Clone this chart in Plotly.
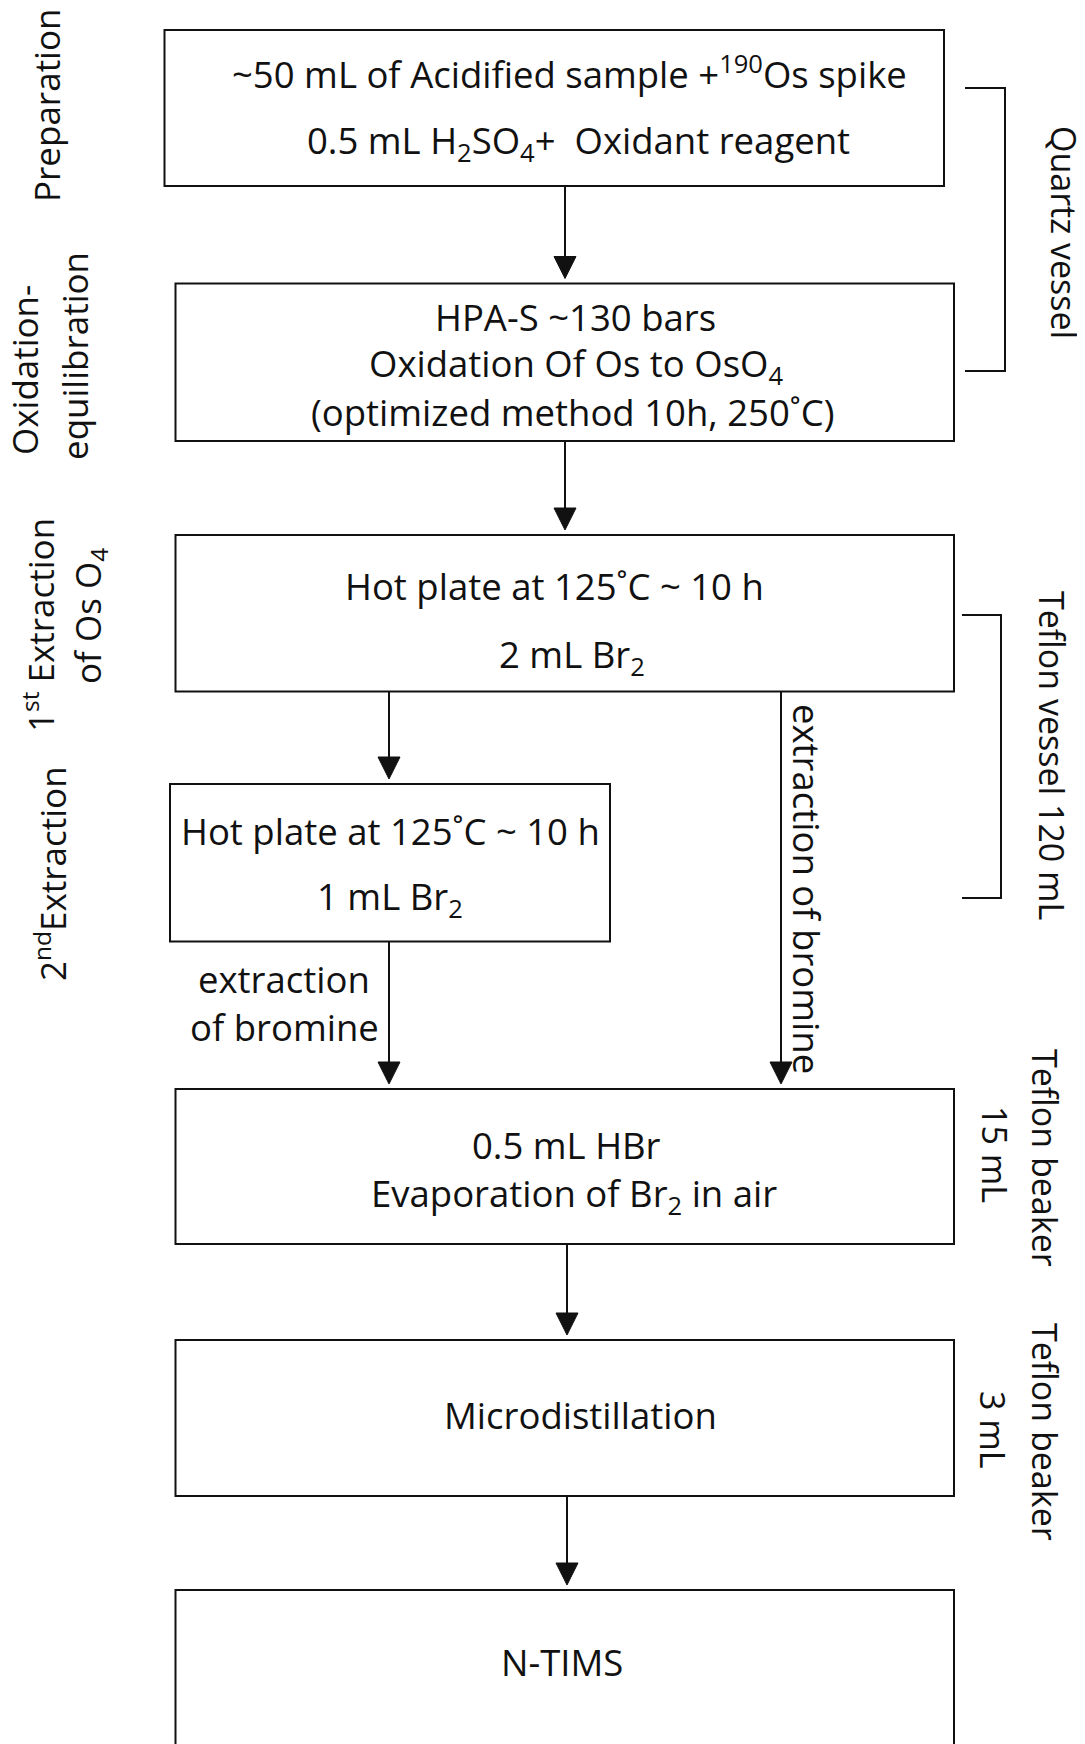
import plotly.graph_objects as go

# ---------------- content (data) ----------------
step_texts = [
    ["~50 mL of Acidified sample +<sup>190</sup>Os spike",
     "0.5 mL H<sub>2</sub>SO<sub>4</sub>+  Oxidant reagent"],
    ["HPA-S ~130 bars",
     "Oxidation Of Os to OsO<sub>4</sub>",
     "(optimized method 10h, 250˚C)"],
    ["Hot plate at 125˚C ~ 10 h", "2 mL Br<sub>2</sub>"],
    ["Hot plate at 125˚C ~ 10 h", "1 mL Br<sub>2</sub>"],
    ["0.5 mL HBr", "Evaporation of Br<sub>2</sub> in air"],
    ["Microdistillation"],
    ["N-TIMS"],
]
stage_labels = [
    ["Preparation"],
    ["Oxidation-", "equilibration"],
    ["1<sup>st</sup> Extraction", "of Os O<sub>4</sub>"],
    ["2<sup>nd</sup>Extraction"],
]
vessel_labels = [
    ["Quartz vessel"],
    ["Teflon vessel 120 mL"],
    ["Teflon beaker", "15 mL"],
    ["Teflon beaker", "3 mL"],
]
flow_edges = [(0, 1), (1, 2), (2, 3), (2, 4), (3, 4), (4, 5), (5, 6)]
edge_texts = {(3, 4): ["extraction", "of bromine"], (2, 4): ["extraction of bromine"]}

# ---------------- layout geometry ----------------
W, H = 1085, 1744
OFF = 8  # browser default body margin; the plot is shifted by it
box_geom = [  # x0, x1, y0, y1
    (164.5, 944, 30, 186),
    (175.5, 954, 283.5, 441),
    (175.5, 954, 535, 691.5),
    (170, 610, 784, 941.5),
    (175.5, 954, 1089, 1244),
    (175.5, 954, 1340, 1496),
    (175.5, 954, 1590, 1800),
]
line_pos = [  # (x, y) per text line
    [(569, 72), (578, 142)],
    [(575, 317), (576, 365), (572, 412)],
    [(554, 586), (572, 656)],
    [(390, 831), (390, 898)],
    [(566, 1145), (574, 1195)],
    [(580, 1415)],
    [(562, 1662)],
]
edge_x = {(0, 1): 565, (1, 2): 565, (2, 3): 389, (2, 4): 781,
          (3, 4): 389, (4, 5): 567, (5, 6): 567}
edge_text_pos = {(3, 4): [(284, 979), (284, 1027)], (2, 4): [(807, 889)]}
stage_pos = [[(46, 106)], [(24, 370), (74, 356)], [(38, 625), (89, 616)], [(50, 874)]]
vessel_pos = [[(1064, 232)], [(1052, 755)], [(1045, 1158), (995, 1154)],
              [(1045, 1432), (993, 1430)]]
brackets = [(965, 1005, 88, 371), (962, 1001, 615, 898)]

BOX_FONT = dict(family="Open Sans", size=36.5, color="#111111")
STAGE_FONT = dict(family="Open Sans", size=35, color="#111111")
VESSEL_FONT = dict(family="Open Sans", size=34, color="#111111")
EDGE_FONT = dict(family="Open Sans", size=36.5, color="#111111")
LINE = dict(color="#111111", width=2)
HEAD_W, HEAD_L, GAP = 11, 22, 5

shapes, annotations = [], []

for (x0, x1, y0, y1) in box_geom:
    shapes.append(dict(type="rect", xref="x", yref="y", x0=x0, x1=x1, y0=y0, y1=y1,
                       line=LINE, fillcolor="rgba(0,0,0,0)"))

for texts, poss in zip(step_texts, line_pos):
    for t, (x, y) in zip(texts, poss):
        annotations.append(dict(x=x, y=y, xref="x", yref="y", text=t, showarrow=False,
                                font=BOX_FONT, xanchor="center", yanchor="middle"))

for (a, b) in flow_edges:
    x = edge_x[(a, b)]
    y_start = box_geom[a][3]
    y_tip = box_geom[b][2] - GAP
    shapes.append(dict(type="line", xref="x", yref="y", x0=x, x1=x, y0=y_start,
                       y1=y_tip - HEAD_L + 2, line=LINE))
    shapes.append(dict(type="path", xref="x", yref="y",
                       path=f"M {x - HEAD_W} {y_tip - HEAD_L} L {x + HEAD_W} {y_tip - HEAD_L} L {x} {y_tip} Z",
                       fillcolor="#111111", line=dict(color="#111111", width=1)))

for key, texts in edge_texts.items():
    for t, (x, y) in zip(texts, edge_text_pos[key]):
        annotations.append(dict(x=x, y=y, xref="x", yref="y", text=t, showarrow=False,
                                font=BOX_FONT if key == (3, 4) else EDGE_FONT,
                                textangle=0 if key == (3, 4) else 90,
                                xanchor="center", yanchor="middle"))

for texts, poss in zip(stage_labels, stage_pos):
    for t, (x, y) in zip(texts, poss):
        annotations.append(dict(x=x, y=y, xref="x", yref="y", text=t, showarrow=False,
                                font=STAGE_FONT, textangle=-90,
                                xanchor="center", yanchor="middle"))

for texts, poss in zip(vessel_labels, vessel_pos):
    for t, (x, y) in zip(texts, poss):
        annotations.append(dict(x=x, y=y, xref="x", yref="y", text=t, showarrow=False,
                                font=VESSEL_FONT, textangle=90,
                                xanchor="center", yanchor="middle"))

for (xa, xb, ya, yb) in brackets:
    shapes.append(dict(type="path", xref="x", yref="y",
                       path=f"M {xa} {ya} L {xb} {ya} L {xb} {yb} L {xa} {yb}",
                       line=LINE))

fig = go.Figure()
fig.update_layout(
    width=W - OFF, height=H - OFF, margin=dict(l=0, r=0, t=0, b=0),
    paper_bgcolor="white", plot_bgcolor="white",
    xaxis=dict(range=[OFF, W], visible=False, fixedrange=True),
    yaxis=dict(range=[H, OFF], visible=False, fixedrange=True),
    shapes=shapes, annotations=annotations, showlegend=False,
)
fig.write_html("out.html")
